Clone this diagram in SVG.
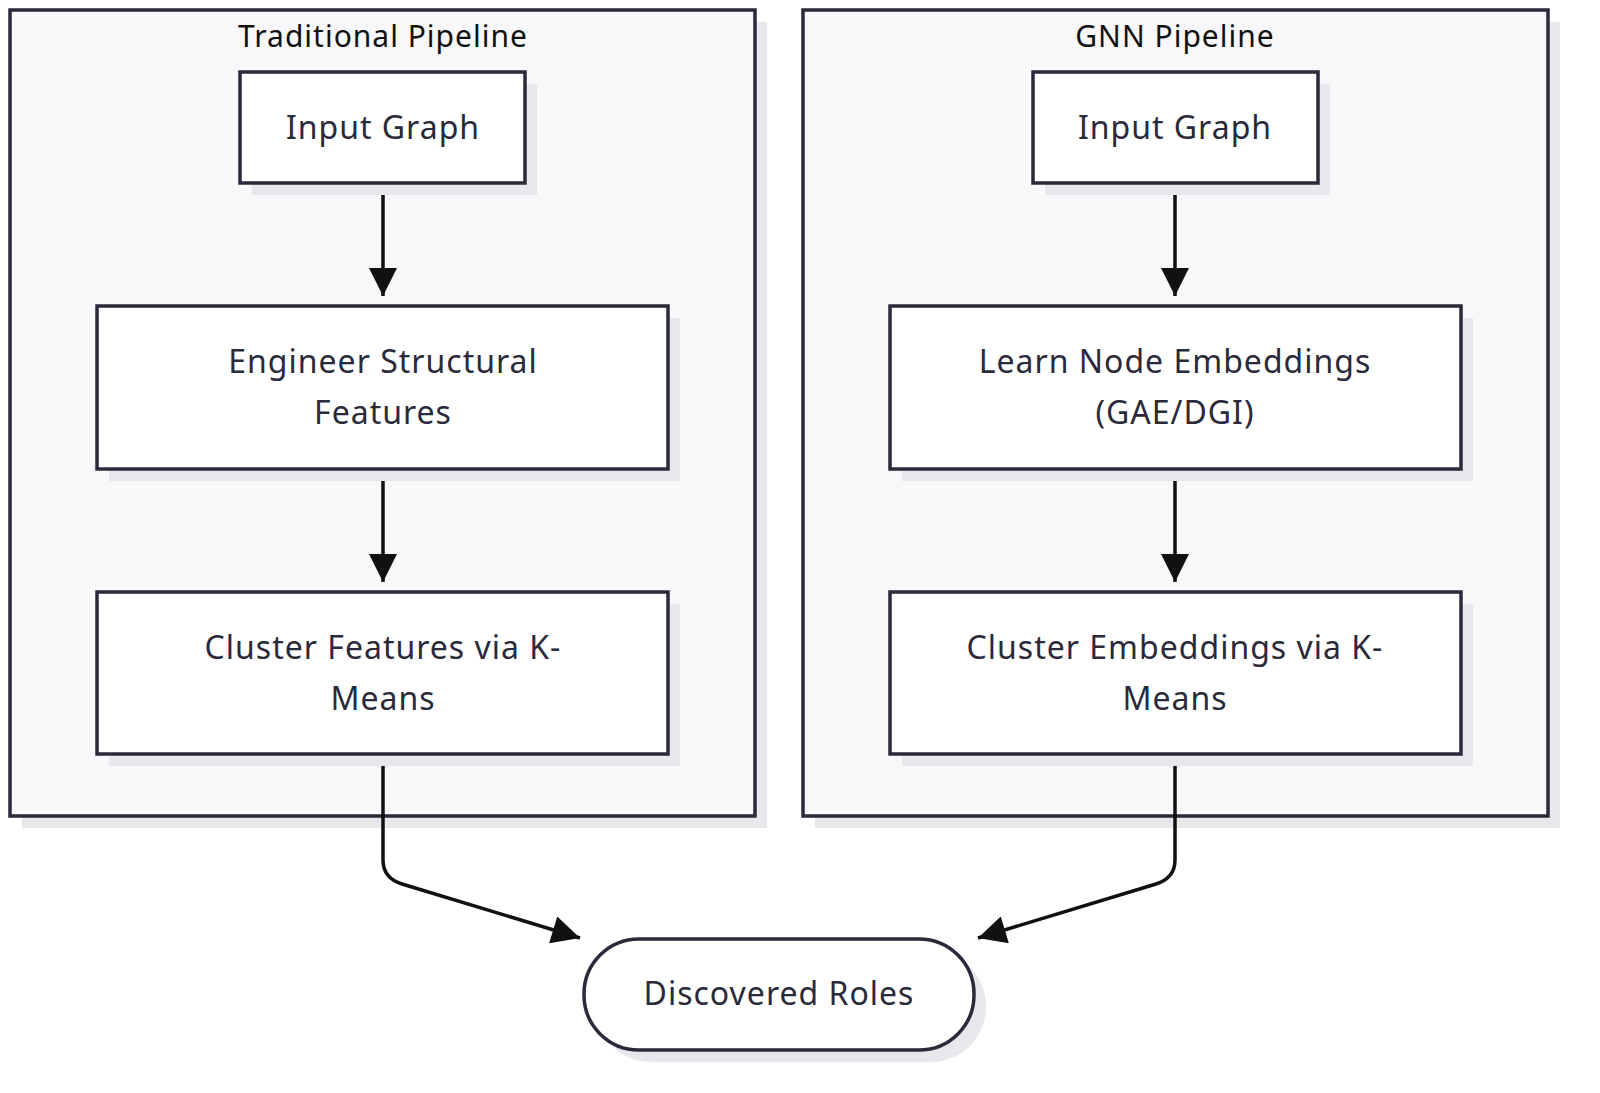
<svg xmlns="http://www.w3.org/2000/svg" width="1600" height="1093" viewBox="0 0 1600 1093">
<style>
.cl{fill:#f8f8fa;stroke:#2a2a3a;stroke-width:3.5}
.sh{fill:#e8e8ec}
.nd{fill:#fff;stroke:#2a2a3a;stroke-width:3.5}
.t{font-family:"Noto Sans","DejaVu Sans",sans-serif;font-size:32px;fill:#2a2a3a;text-anchor:middle;letter-spacing:1px}
.ct{font-family:"Noto Sans","DejaVu Sans",sans-serif;font-size:30px;fill:#111;text-anchor:middle;letter-spacing:1px}
.e{fill:none;stroke:#111;stroke-width:3.5}
</style>
<defs><marker id="a" markerWidth="10" markerHeight="10" refX="9" refY="5" orient="auto" markerUnits="userSpaceOnUse" viewBox="0 0 10 10"><path d="M0,0L10,5L0,10z" fill="#111"/></marker>
<marker id="ah" viewBox="0 0 10 10" refX="10" refY="5" markerWidth="30" markerHeight="28" markerUnits="userSpaceOnUse" orient="auto"><path d="M0,0L10,5L0,10z" fill="#111"/></marker></defs>
<g id="cluster-trad"><rect class="sh" x="22" y="22" width="745" height="806"/><rect class="cl" x="10" y="10" width="745" height="806"/><text class="ct" x="383" y="47">Traditional Pipeline</text></g>
<g id="cluster-gnn"><rect class="sh" x="815" y="22" width="745" height="806"/><rect class="cl" x="803" y="10" width="745" height="806"/><text class="ct" x="1175" y="47">GNN Pipeline</text></g>
<g id="edges">
<path class="e" d="M383,183V296" marker-end="url(#ah)"/>
<path class="e" d="M383,469V582" marker-end="url(#ah)"/>
<path class="e" d="M1175,183V296" marker-end="url(#ah)"/>
<path class="e" d="M1175,469V582" marker-end="url(#ah)"/>
<path class="e" d="M383,754V860Q383,878 402,884L580,938" marker-end="url(#ah)"/>
<path class="e" d="M1175,754V860Q1175,878 1156,884L978,938" marker-end="url(#ah)"/>
</g>
<g id="n1"><rect class="sh" x="252" y="84" width="285" height="111"/><rect class="nd" x="240" y="72" width="285" height="111"/><text class="t" x="383" y="139">Input Graph</text></g>
<g id="n2"><rect class="sh" x="109" y="318" width="571" height="163"/><rect class="nd" x="97" y="306" width="571" height="163"/><text class="t" x="383" y="373">Engineer Structural</text><text class="t" x="383" y="424">Features</text></g>
<g id="n3"><rect class="sh" x="109" y="604" width="571" height="162"/><rect class="nd" x="97" y="592" width="571" height="162"/><text class="t" x="383" y="659">Cluster Features via K-</text><text class="t" x="383" y="710">Means</text></g>
<g id="n4"><rect class="sh" x="1045" y="84" width="285" height="111"/><rect class="nd" x="1033" y="72" width="285" height="111"/><text class="t" x="1175" y="139">Input Graph</text></g>
<g id="n5"><rect class="sh" x="902" y="318" width="571" height="163"/><rect class="nd" x="890" y="306" width="571" height="163"/><text class="t" x="1175" y="373">Learn Node Embeddings</text><text class="t" x="1175" y="424">(GAE/DGI)</text></g>
<g id="n6"><rect class="sh" x="902" y="604" width="571" height="162"/><rect class="nd" x="890" y="592" width="571" height="162"/><text class="t" x="1175" y="659">Cluster Embeddings via K-</text><text class="t" x="1175" y="710">Means</text></g>
<g id="n7"><rect class="sh" x="596" y="951" width="390" height="111" rx="55"/><rect class="nd" x="584" y="939" width="390" height="111" rx="55"/><text class="t" x="779" y="1005">Discovered Roles</text></g>
</svg>
